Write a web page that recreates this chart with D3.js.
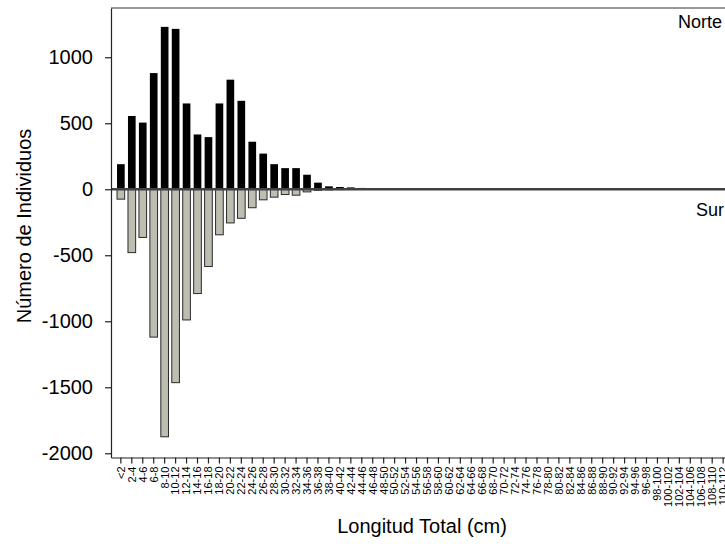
<!DOCTYPE html>
<html lang="es">
<head>
  <meta charset="UTF-8">
  <title>Longitud Total - Norte / Sur</title>
  <script src="https://d3js.org/d3.v7.min.js"></script>
  <style>
    body {
      margin: 0;
      background: #fff;
    }

    svg text {
      font-family: "Liberation Sans", Arial, sans-serif;
      fill: #000;
    }

    .axis path,
    .axis line {
      stroke: #222;
      stroke-width: 1.2;
    }
  </style>
</head>
<body>
  <div id="chart"></div>

  <script>
    const categories = ["<2", "2-4", "4-6", "6-8", "8-10", "10-12", "12-14", "14-16", "16-18", "18-20",
      "20-22", "22-24", "24-26", "26-28", "28-30", "30-32", "32-34", "34-36", "36-38", "38-40",
      "40-42", "42-44", "44-46", "46-48", "48-50", "50-52", "52-54", "54-56", "56-58", "58-60",
      "60-62", "62-64", "64-66", "66-68", "68-70", "70-72", "72-74", "74-76", "76-78", "78-80",
      "80-82", "82-84", "84-86", "86-88", "88-90", "90-92", "92-94", "94-96", "96-98", "98-100",
      "100-102", "102-104", "104-106", "106-108", "108-110", "110-112"];

    const norte = [190, 555, 505, 880, 1230, 1215, 650, 415, 395, 650,
      830, 670, 360, 270, 190, 160, 160, 110, 50, 22,
      17, 14, 10, 6, 5, 4, 3, 3, 2, 2,
      2, 1, 1, 1, 1, 1, 1, 1, 0, 0,
      0, 0, 0, 0, 0, 0, 0, 0, 0, 0,
      0, 0, 0, 0, 0, 0];

    const sur = [-75, -480, -365, -1120, -1875, -1465, -990, -790, -585, -345,
      -255, -220, -140, -80, -60, -40, -45, -20, -8, -5,
      -3, -2, -1, -1, 0, 0, 0, 0, 0, 0,
      0, 0, 0, 0, 0, 0, 0, 0, 0, 0,
      0, 0, 0, 0, 0, 0, 0, 0, 0, 0,
      0, 0, 0, 0, 0, 0];

    const yTicks = [-2000, -1500, -1000, -500, 0, 500, 1000];

    const width = 725;
    const height = 544;
    const margin = { left: 111, right: 733, top: 8, bottom: 457.5 };   // plot runs a little past the window

    const svg = d3.select("#chart")
      .append("svg")
      .attr("width", width)
      .attr("height", height);

    const x = d3.scaleBand()
      .domain(categories)
      .range([margin.left, margin.right])
      .paddingInner(0.3)
      .paddingOuter(0.55);

    const y = d3.scaleLinear()
      .domain([-2032, 1373])
      .range([margin.bottom, margin.top]);

    // frame top line
    svg.append("line")
      .attr("x1", margin.left)
      .attr("x2", margin.right)
      .attr("y1", margin.top)
      .attr("y2", margin.top)
      .attr("stroke", "#333")
      .attr("stroke-width", 1.2);

    // north bars
    svg.selectAll(".norte")
      .data(norte)
      .enter()
      .append("rect")
      .attr("class", "norte")
      .attr("x", (d, i) => x(categories[i]))
      .attr("y", d => y(d))
      .attr("width", x.bandwidth())
      .attr("height", d => y(0) - y(d))
      .attr("fill", "#000");

    // south bars
    svg.selectAll(".sur")
      .data(sur)
      .enter()
      .append("rect")
      .attr("class", "sur")
      .attr("x", (d, i) => x(categories[i]))
      .attr("y", y(0))
      .attr("width", x.bandwidth())
      .attr("height", d => y(d) - y(0))
      .attr("fill", "#bdbdb1")
      .attr("stroke", d => d < 0 ? "#2a2a2a" : "none")
      .attr("stroke-width", 1);

    // zero line
    svg.append("line")
      .attr("x1", margin.left)
      .attr("x2", margin.right)
      .attr("y1", y(0))
      .attr("y2", y(0))
      .attr("stroke", "#404040")
      .attr("stroke-width", 2.6);

    const xAxis = d3.axisBottom(x)
      .tickSize(6)
      .tickSizeOuter(0);

    const gx = svg.append("g")
      .attr("class", "axis")
      .attr("transform", `translate(0, ${margin.bottom})`)
      .call(xAxis);

    gx.selectAll("text")
      .attr("transform", "rotate(-90)")
      .attr("x", -9)
      .attr("y", 0)
      .attr("dy", "0.35em")
      .style("text-anchor", "end")
      .style("font-size", "11px");

    const yAxis = d3.axisLeft(y)
      .tickValues(yTicks)
      .tickFormat(d => String(d))
      .tickSize(6)
      .tickSizeOuter(0)
      .tickPadding(12);

    const gy = svg.append("g")
      .attr("class", "axis")
      .attr("transform", `translate(${margin.left}, 0)`)
      .call(yAxis);

    gy.selectAll("text")
      .style("font-size", "20px");

    // series labels
    svg.append("text")
      .attr("x", 722)
      .attr("y", 28)
      .attr("text-anchor", "end")
      .style("font-size", "18px")
      .text("Norte");

    svg.append("text")
      .attr("x", 724)
      .attr("y", 216)
      .attr("text-anchor", "end")
      .style("font-size", "18px")
      .text("Sur");

    // axis titles
    svg.append("text")
      .attr("x", (margin.left + margin.right) / 2)
      .attr("y", 533)
      .attr("text-anchor", "middle")
      .style("font-size", "20px")
      .text("Longitud Total (cm)");

    svg.append("text")
      .attr("transform", "translate(31, 226) rotate(-90)")
      .attr("text-anchor", "middle")
      .style("font-size", "20px")
      .text("Número de Individuos");
  </script>
</body>
</html>
